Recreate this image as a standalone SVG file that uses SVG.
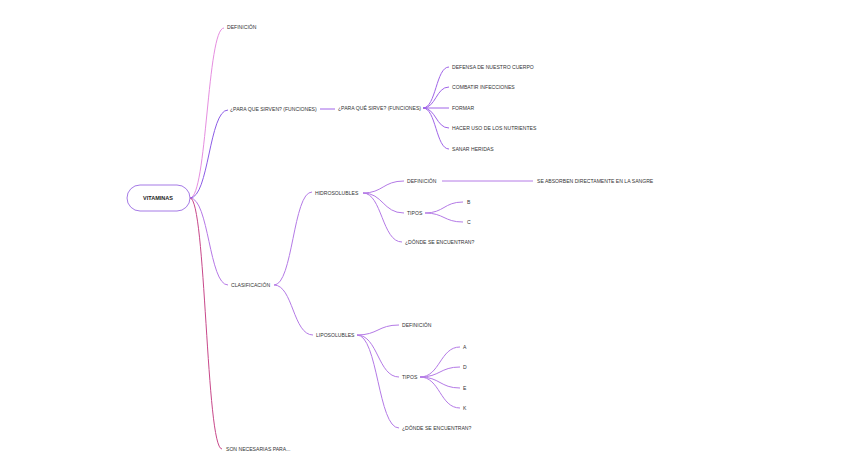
<svg xmlns="http://www.w3.org/2000/svg" width="848" height="474" viewBox="0 0 848 474">
<style>
text{font-family:"Liberation Sans",Arial,sans-serif;font-size:5.1px;fill:#333;dominant-baseline:central}
.root{font-weight:bold;font-size:5.5px;fill:#222}
.e{fill:none;stroke-width:1}
.p{stroke:#a064e8}
.l{stroke:#b47ae6}
</style>
<rect width="848" height="474" fill="#fff"/>
<g id="connectors">
<path class="e" stroke="#e68ee0" d="M190 198 C207 198,207 28,224 28"/>
<path class="e" stroke="#8c5ce6" d="M190 198 C209 198,209 110,228 110"/>
<path class="e" stroke="#b678e6" d="M190 198 C209 198,209 285,228 285"/>
<path class="e" stroke="#c8488a" d="M190 198 C206 198,206 449,222 449"/>
<path class="e p" d="M320 109 L335 109"/>
<path class="e p" d="M423 108 C436 108,436 67,449 67"/>
<path class="e p" d="M423 108 C436 108,436 87,449 87"/>
<path class="e p" d="M423 108 L449 108"/>
<path class="e p" d="M423 108 C436 108,436 128,449 128"/>
<path class="e p" d="M423 108 C436 108,436 149,449 149"/>
<path class="e l" d="M274 285 C293 285,293 192,312 192"/>
<path class="e l" d="M274 285 C293 285,293 335,313 335"/>
<path class="e l" d="M363 193 C383 193,383 181,404 181"/>
<path class="e l" d="M363 193 C383 193,383 213,404 213"/>
<path class="e l" d="M363 193 C382 193,382 242,402 242"/>
<path class="e l" d="M442 181 L533 181"/>
<path class="e l" d="M425 213 C444 213,444 202,463 202"/>
<path class="e l" d="M425 213 C444 213,444 222,463 222"/>
<path class="e l" d="M357 335 C378 335,378 325,399 325"/>
<path class="e l" d="M357 335 C378 335,378 377,399 377"/>
<path class="e l" d="M357 335 C378 335,378 428,399 428"/>
<path class="e l" d="M420 377 C440 377,440 347,460 347"/>
<path class="e l" d="M420 377 C440 377,440 367,460 367"/>
<path class="e l" d="M420 377 C440 377,440 388,460 388"/>
<path class="e l" d="M420 377 C440 377,440 408,460 408"/>
</g>
<g id="vitaminas"><rect x="127" y="185" width="63" height="26" rx="13" fill="#fff" stroke="#a57ae6" stroke-width="1"/><text class="root" x="158" y="198" text-anchor="middle">VITAMINAS</text></g>
<g id="definicion"><text x="227" y="27">DEFINICIÓN</text></g>
<g id="para-que"><text x="230" y="109">¿PARA QUE SIRVEN? (FUNCIONES)</text></g>
<g id="para-que-2"><text x="338" y="108">¿PARA QUÉ SIRVE? (FUNCIONES)</text></g>
<g id="f1"><text x="452" y="67">DEFENSA DE NUESTRO CUERPO</text></g>
<g id="f2"><text x="452" y="87">COMBATIR INFECCIONES</text></g>
<g id="f3"><text x="452" y="108">FORMAR</text></g>
<g id="f4"><text x="452" y="128">HACER USO DE LOS NUTRIENTES</text></g>
<g id="f5"><text x="452" y="149">SANAR HERIDAS</text></g>
<g id="clasificacion"><text x="231" y="285">CLASIFICACIÓN</text></g>
<g id="hidrosolubles"><text x="315" y="193">HIDROSOLUBLES</text></g>
<g id="h-def"><text x="407" y="181">DEFINICIÓN</text></g>
<g id="h-def-txt"><text x="537" y="181">SE ABSORBEN DIRECTAMENTE EN LA SANGRE</text></g>
<g id="h-tipos"><text x="407" y="213">TIPOS</text></g>
<g id="h-b"><text x="467" y="202">B</text></g>
<g id="h-c"><text x="467" y="222">C</text></g>
<g id="h-donde"><text x="405" y="242">¿DÓNDE SE ENCUENTRAN?</text></g>
<g id="liposolubles"><text x="316" y="335">LIPOSOLUBLES</text></g>
<g id="l-def"><text x="402" y="325">DEFINICIÓN</text></g>
<g id="l-tipos"><text x="402" y="377">TIPOS</text></g>
<g id="l-a"><text x="463" y="347">A</text></g>
<g id="l-d"><text x="463" y="367">D</text></g>
<g id="l-e"><text x="463" y="388">E</text></g>
<g id="l-k"><text x="463" y="408">K</text></g>
<g id="l-donde"><text x="402" y="428">¿DÓNDE SE ENCUENTRAN?</text></g>
<g id="son-necesarias"><text x="226" y="449">SON NECESARIAS PARA...</text></g>
</svg>
